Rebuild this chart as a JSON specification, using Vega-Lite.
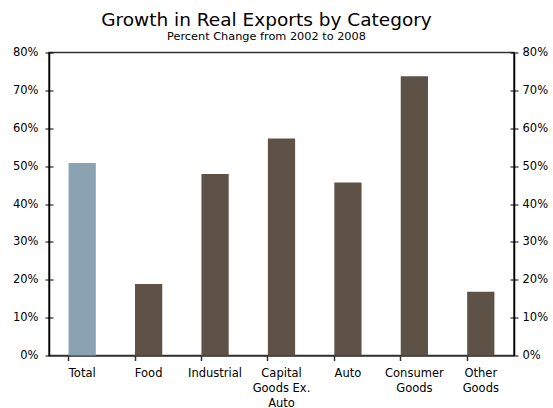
{
  "$schema": "https://vega.github.io/schema/vega-lite/v6.json",
  "width": 465,
  "height": 303,
  "autosize": {"type": "none"},
  "padding": {"left": 49, "top": 52.5, "right": 39, "bottom": 52.5},
  "background": "white",
  "config": {
    "font": "DejaVu Sans",
    "view": {"stroke": "#333333", "strokeWidth": 1.5},
    "axis": {"labelFont": "DejaVu Sans", "labelColor": "#000000", "labelFontSize": 11.5, "grid": false}
  },
  "title": {
    "text": "Growth in Real Exports by Category",
    "subtitle": "Percent Change from 2002 to 2008",
    "fontSize": 18.5,
    "fontWeight": "normal",
    "subtitleFontSize": 11.3,
    "subtitleColor": "#000000",
    "color": "#000000",
    "subtitlePadding": 2,
    "offset": 4,
    "dx": -15,
    "anchor": "middle"
  },
  "data": {
    "values": [
      {"category": "Total", "growth": 0.508},
      {"category": "Food", "growth": 0.189},
      {"category": "Industrial", "growth": 0.479},
      {"category": "Capital|Goods Ex.|Auto", "growth": 0.573},
      {"category": "Auto", "growth": 0.457},
      {"category": "Consumer|Goods", "growth": 0.737},
      {"category": "Other|Goods", "growth": 0.168}
    ]
  },
  "layer": [
    {
      "mark": {"type": "bar"},
      "encoding": {
        "x": {
          "field": "category",
          "type": "nominal",
          "sort": null,
          "scale": {"paddingInner": 0.59, "paddingOuter": 0.295},
          "axis": {
            "title": null,
            "bandPosition": 0,
            "labelAngle": 0,
            "labelExpr": "split(datum.label, '|')",
            "labelLineHeight": 15,
            "labelPadding": 7,
            "tickSize": 5,
            "tickColor": "#333333",
            "tickWidth": 1.5,
            "domainColor": "#333333",
            "domainWidth": 1.5,
            "labelFontSize": 11.5
          }
        },
        "y": {
          "field": "growth",
          "type": "quantitative",
          "scale": {"domain": [0, 0.8], "nice": false},
          "axis": {
            "title": null,
            "orient": "left",
            "values": [0, 0.1, 0.2, 0.3, 0.4, 0.5, 0.6, 0.7, 0.8],
            "format": ".0%",
            "tickSize": 4,
            "tickColor": "#000000",
            "domainColor": "#000000",
            "domainWidth": 1.5,
            "labelPadding": 7
          }
        },
        "color": {
          "condition": {"test": "datum.category == 'Total'", "value": "#8AA2B2"},
          "value": "#5E5246"
        }
      }
    },
    {
      "mark": {"type": "bar", "opacity": 0},
      "encoding": {
        "x": {"field": "category", "type": "nominal", "sort": null, "axis": null},
        "y": {
          "field": "growth",
          "type": "quantitative",
          "scale": {"domain": [0, 0.8], "nice": false},
          "axis": {
            "title": null,
            "orient": "right",
            "values": [0, 0.1, 0.2, 0.3, 0.4, 0.5, 0.6, 0.7, 0.8],
            "format": ".0%",
            "tickSize": 4,
            "tickColor": "#000000",
            "domainColor": "#000000",
            "domainWidth": 1.5,
            "labelPadding": 4
          }
        }
      }
    },
    {
      "mark": {"type": "bar", "opacity": 0},
      "encoding": {
        "x": {"field": "category", "type": "nominal", "sort": null, "axis": null},
        "y": {
          "field": "growth",
          "type": "quantitative",
          "scale": {"domain": [0, 0.8], "nice": false},
          "axis": {
            "title": null,
            "orient": "left",
            "values": [0.1, 0.2, 0.3, 0.4, 0.5, 0.6, 0.7, 0.8],
            "tickSize": -4,
            "tickColor": "#000000",
            "domain": false,
            "labels": false
          }
        }
      }
    },
    {
      "mark": {"type": "bar", "opacity": 0},
      "encoding": {
        "x": {"field": "category", "type": "nominal", "sort": null, "axis": null},
        "y": {
          "field": "growth",
          "type": "quantitative",
          "scale": {"domain": [0, 0.8], "nice": false},
          "axis": {
            "title": null,
            "orient": "right",
            "values": [0.1, 0.2, 0.3, 0.4, 0.5, 0.6, 0.7, 0.8],
            "tickSize": -4,
            "tickColor": "#000000",
            "domain": false,
            "labels": false
          }
        }
      }
    }
  ],
  "resolve": {"axis": {"x": "independent", "y": "independent"}}
}
